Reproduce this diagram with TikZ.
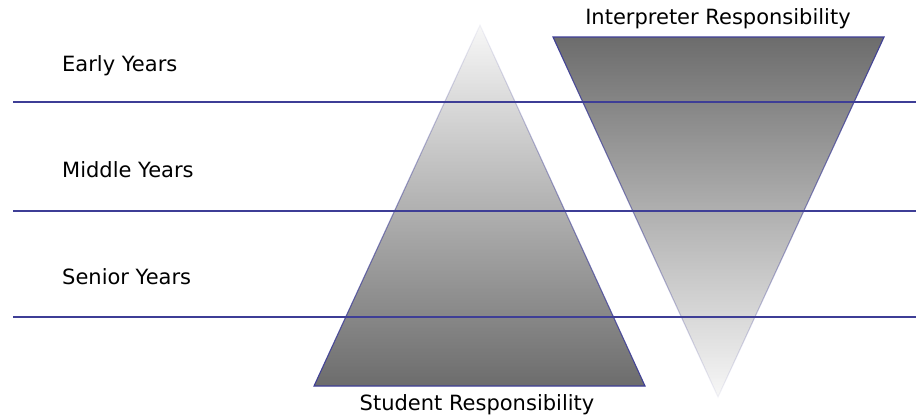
\documentclass[tikz,border=0pt]{standalone}
\usepackage{fontspec}
\setmainfont{DejaVu Sans}
\usetikzlibrary{fadings}
\definecolor{rule}{RGB}{62,62,150}
\definecolor{wedge}{RGB}{108,108,108}
\tikzfading[name=fadeup, top color=transparent!95, bottom color=transparent!0]
\tikzfading[name=fadedown, top color=transparent!0, bottom color=transparent!95]
\newcommand{\lbl}{\fontsize{21}{25}\selectfont}

\begin{document}
\begin{tikzpicture}[x=1pt,y=-1pt]
\useasboundingbox (0,0) rectangle (916,417);
\coordinate (s) at (480,25);
\coordinate (sl) at (314,386);
\coordinate (sr) at (645,386);
\coordinate (il) at (553,37);
\coordinate (ir) at (884,37);
\coordinate (i) at (718,397);

\fill[wedge,path fading=fadeup] (sl)--(sr)--(s)--cycle;
\draw[rule,line width=1.1pt,path fading=fadeup] (sl)--(sr)--(s)--cycle;
\fill[wedge,path fading=fadedown] (il)--(ir)--(i)--cycle;
\draw[rule,line width=1.1pt,path fading=fadedown] (il)--(ir)--(i)--cycle;

\foreach \h/\n in {102/a,211/b,317/c}{
\coordinate (\n1) at (13,\h);
\coordinate (\n2) at (916,\h);
\draw[rule,line width=1.1pt] (\n1)--(\n2);
}

\node[anchor=base west,inner sep=0pt] (early) at (62,72) {\lbl Early Years};
\node[anchor=base west,inner sep=0pt] (middle) at (62,178) {\lbl Middle Years};
\node[anchor=base west,inner sep=0pt] (senior) at (62,284) {\lbl Senior Years};
\node[anchor=base,inner sep=0pt] (stud) at (477,410) {\lbl Student Responsibility};
\node[anchor=base,inner sep=0pt] (interp) at (718,25) {\lbl Interpreter Responsibility};
\end{tikzpicture}
\end{document}
